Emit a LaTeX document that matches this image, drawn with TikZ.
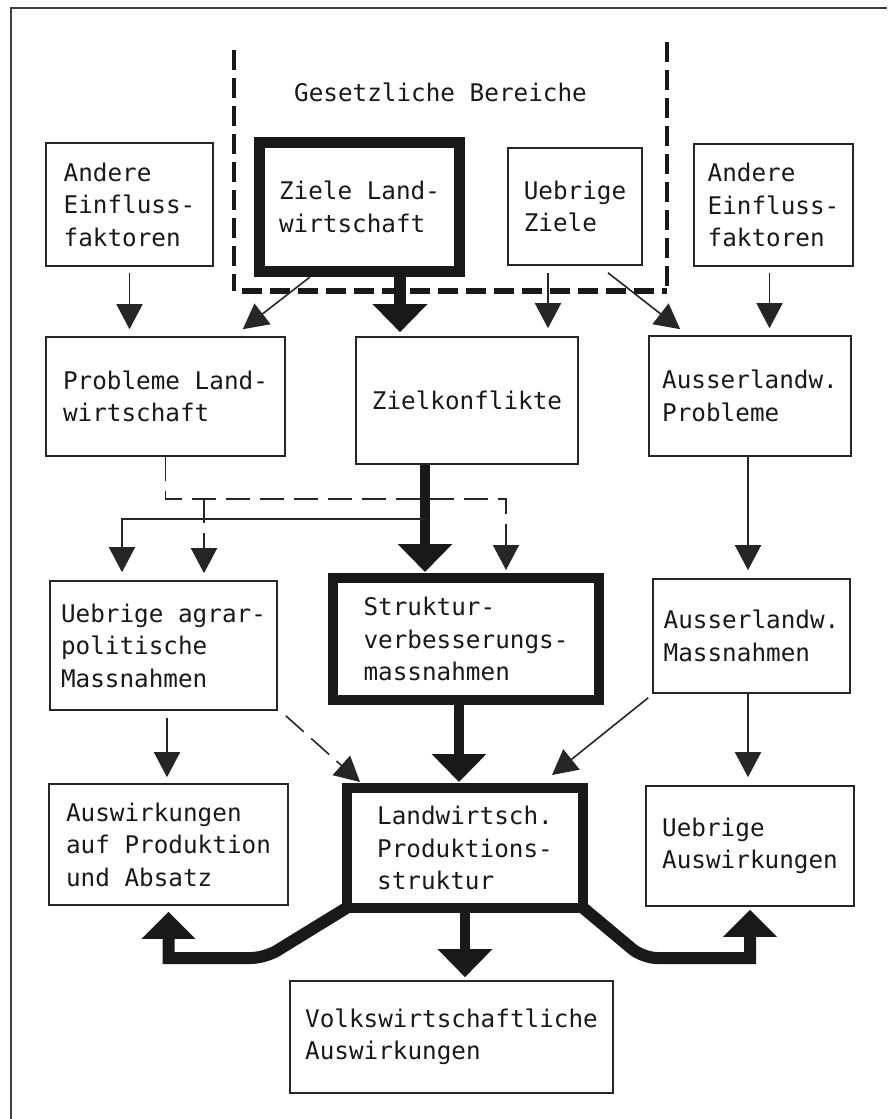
\documentclass[tikz,border=0pt]{standalone}
\usepackage{fontspec}
\newfontfamily\monofont{DejaVu Sans Mono}
\usetikzlibrary{arrows.meta,calc}
\begin{document}
\begin{tikzpicture}[x=1pt,y=-1pt,
  every node/.style={font=\monofont\fontsize{24.3pt}{32.5pt}\selectfont, text=black!90},
  tbox/.style={draw=black!85, line width=1.6pt, align=left, inner sep=0pt},
  kbox/.style={draw=black!90, line width=10pt, align=left, inner sep=0pt},
  tarrow/.style={draw=black!85, line width=1.6pt, -{Triangle[width=26pt,length=25pt]}},
  harrow/.style={draw=black!90, line width=11pt, -{Triangle[width=53pt,length=28pt]}},
  dashline/.style={dash pattern=on 24pt off 10pt},
  zone/.style={draw=black!90, dash pattern=on 20pt off 8pt}
]
\useasboundingbox (0,0) rectangle (887,1119);
% frame
\draw[line width=2pt, black!75] (11,1119) -- (11,8) -- (887,8);

% boxes
\node[tbox, minimum width=167pt, minimum height=123pt] (A1) at (129.5,204.5) {Andere\\Einfluss-\\faktoren};
\node[kbox, line width=11pt, minimum width=200pt, minimum height=129pt] (Z) at (359.5,207) {Ziele Land-\\wirtschaft};
\node[tbox, minimum width=134pt, minimum height=117pt] (UZ) at (575,206.5) {Uebrige\\Ziele};
\node[tbox, minimum width=159pt, minimum height=122pt] (A2) at (773.5,205) {Andere\\Einfluss-\\faktoren};

\node[tbox, minimum width=239pt, minimum height=119pt] (PL) at (165.5,396.5) {Probleme Land-\\wirtschaft};
\node[tbox, minimum width=222pt, minimum height=127pt] (ZK) at (467,400.5) {Zielkonflikte};
\node[tbox, minimum width=202pt, minimum height=120pt] (AP) at (750,396) {Ausserlandw.\\Probleme};

\node[tbox, minimum width=227pt, minimum height=129pt] (UA) at (163.5,645.5) {Uebrige agrar-\\politische\\Massnahmen};
\node[kbox, minimum width=266pt, minimum height=122pt] (SV) at (466,639) {Struktur-\\verbesserungs-\\massnahmen};
\node[tbox, minimum width=197pt, minimum height=114pt] (AM) at (751.5,636) {Ausserlandw.\\Massnahmen};

\node[tbox, minimum width=239pt, minimum height=121pt] (AW) at (168.5,844.5) {Auswirkungen\\auf Produktion\\und Absatz};
\node[kbox, minimum width=236pt, minimum height=120pt] (LP) at (465,848) {Landwirtsch.\\Produktions-\\struktur};
\node[tbox, minimum width=208pt, minimum height=120pt] (UeA) at (750,846) {Uebrige\\Auswirkungen};

\node[tbox, minimum width=323pt, minimum height=112pt] (VA) at (451.5,1037) {Volkswirtschaftliche\\Auswirkungen};

% legal zone
\node[anchor=base west, inner sep=0pt] (GB) at (294,101) {Gesetzliche Bereiche};
\coordinate (g1) at (234,50);
\coordinate (g2) at (234,291);
\coordinate (g3) at (667,291);
\coordinate (g4) at (667,42);
\draw[zone, line width=4.5pt] (g1) -- (g2);
\draw[zone, line width=6pt] ([xshift=8pt]g2) -- (g3);
\draw[zone, line width=4.5pt] (g4) -- (g3);

% row 1 -> row 2
\draw[tarrow, shorten <=6pt, shorten >=7pt] (A1.south) -- (A1.south |- PL.north);
\draw[tarrow, shorten <=6pt, shorten >=7pt] ([xshift=-4pt]A2.south) -- ([xshift=-4pt]A2.south |- AP.north);
\draw[tarrow, shorten <=7pt, shorten >=8pt] ([xshift=-27pt]UZ.south) -- ([xshift=-27pt]UZ.south |- ZK.north);
\draw[tarrow] ([xshift=-49.5pt]Z.south) -- ([xshift=-43pt,yshift=7pt]PL.north east);
\draw[tarrow] ([xshift=33pt,yshift=-7pt]UZ.south) -- ([xshift=32pt,yshift=6pt]AP.north west);
\draw[harrow, line width=12pt, shorten <=-3pt, shorten >=4pt] ([xshift=40.5pt]Z.south) -- ([xshift=40.5pt]Z.south |- ZK.north);

% row 2 -> row 3
\coordinate (j1) at ($(ZK.south)+(-42,54)$);
\coordinate (d1) at ($(PL.south)+(0,42)$);
\draw[harrow, line width=10pt, shorten >=1pt] ([xshift=-42pt]ZK.south) -- ([xshift=-42pt]ZK.south |- SV.north);
\draw[tarrow] (j1) -| ([xshift=-41.5pt,yshift=8pt]UA.north);
\draw[tarrow, dashline] (PL.south) -- (d1) -| ([xshift=40pt,yshift=3pt]SV.north);
\draw[tarrow, dashline] ([xshift=40.5pt]UA.north |- d1) -- ([xshift=40.5pt,yshift=7pt]UA.north);
\draw[tarrow, shorten >=8pt] ([xshift=-2pt]AP.south) -- ([xshift=-2pt]AP.south |- AM.north);

% row 3 -> row 4
\draw[tarrow, shorten <=7pt, shorten >=6pt] ([xshift=3.5pt]UA.south) -- ([xshift=3.5pt]UA.south |- AW.north);
\draw[tarrow, dashline] ([xshift=8pt,yshift=-5pt]UA.south east) -- ([xshift=18pt,yshift=1pt]LP.north west);
\draw[harrow, line width=10pt, shorten <=-3pt, shorten >=1pt] ([xshift=-7pt]SV.south) -- ([xshift=-7pt]SV.south |- LP.north);
\draw[tarrow] ([xshift=-4pt,yshift=-4pt]AM.south west) -- ([xshift=-36pt,yshift=8pt]LP.north east);
\draw[tarrow, shorten >=8pt] ([xshift=-3.5pt]AM.south) -- ([xshift=-3.5pt]AM.south |- UeA.north);

% outputs of production structure
\coordinate (bl) at ($(LP.south west)+(-77,45)$);
\coordinate (br) at ($(LP.south east)+(55,45)$);
\draw[harrow, line width=10pt, shorten <=-3pt, shorten >=3pt] (LP.south) -- (LP.south |- VA.north);
\draw[harrow, line width=12pt, -{Triangle[width=52pt,length=27pt]}, shorten >=6pt] ([xshift=6pt,yshift=6pt]LP.south west) [rounded corners=14pt] -- (bl) [sharp corners] -| (AW.south);
\draw[harrow, line width=12pt, -{Triangle[width=52pt,length=27pt]}, shorten >=3pt] ([xshift=-6pt,yshift=6pt]LP.south east) [rounded corners=14pt] -- (br) [sharp corners] -| (UeA.south);
\end{tikzpicture}
\end{document}
